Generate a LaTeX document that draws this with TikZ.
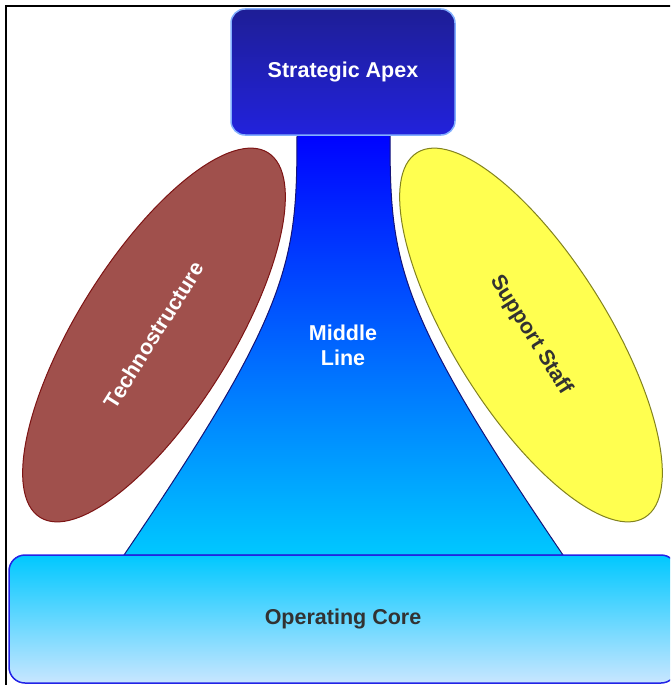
\documentclass[tikz,border=0pt]{standalone}
\usepackage{fontspec}
\setmainfont{Liberation Sans}
\usetikzlibrary{shapes.geometric}
\definecolor{apextop}{RGB}{30,30,150}
\definecolor{apexbot}{RGB}{34,34,220}
\definecolor{linetop}{RGB}{0,0,255}
\definecolor{linebot}{RGB}{0,200,255}
\definecolor{coretop}{RGB}{0,200,255}
\definecolor{corebot}{RGB}{200,230,255}
\definecolor{technofill}{RGB}{160,80,76}
\definecolor{technoline}{RGB}{125,20,20}
\definecolor{supportfill}{RGB}{255,255,80}
\definecolor{supportline}{RGB}{130,130,30}
\definecolor{darktext}{RGB}{50,50,50}

\begin{document}
\begin{tikzpicture}[x=1pt,y=-1pt]
\tikzset{part/.style={font=\bfseries\fontsize{21.5}{25}\selectfont, align=center}}
\tikzset{staff/.style={part, ellipse, minimum width=430pt, minimum height=154pt,
  preaction={draw=white, line width=4.5pt}, line width=1pt}}
\useasboundingbox (0,0) rectangle (670,685);
\clip (0,0) rectangle (670,685);
% frame
\draw[line width=2pt] (6,690) -- (6,6) -- (675,6);
% middle line
\path[top color=linetop, bottom color=linebot, draw={rgb,255:red,20;green,20;blue,120}, line width=1pt]
  (297,130) .. controls (297,260) and (294,305) .. (124,555)
  -- (563,555) .. controls (393,305) and (390,260) .. (390,130) -- cycle;
\node[part, text=white] (midline) at (343,345) {Middle\\Line};
% apex and core
\node[part, text=white, rounded corners=14pt, minimum width=224pt, minimum height=126pt,
  top color=apextop, bottom color=apexbot, draw={rgb,255:red,130;green,175;blue,255}, line width=1.5pt]
  (apex) at (343,72) {Strategic Apex};
\node[part, text=darktext, rounded corners=16pt, minimum width=668pt, minimum height=128pt,
  top color=coretop, bottom color=corebot, draw={rgb,255:red,35;green,35;blue,230}, line width=1.5pt]
  (core) at (343,619) {Operating Core};
% staff units
\node[staff, rotate=58, fill=technofill, draw=technoline, text=white] (techno) at (154,335) {Technostructure};
\node[staff, rotate=-58, fill=supportfill, draw=supportline, text=darktext] (support) at (531,335) {Support Staff};
\end{tikzpicture}
\end{document}
